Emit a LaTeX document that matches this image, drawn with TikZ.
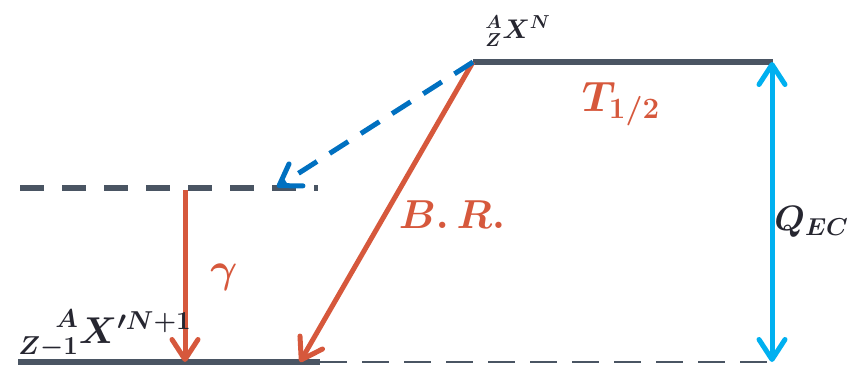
\documentclass[tikz,border=0pt]{standalone}
\usepackage{graphicx}
\usepackage{amsmath}
\usepackage{mathtools}
\usetikzlibrary{arrows.meta}
\definecolor{lvl}{RGB}{74,85,99}
\definecolor{redc}{RGB}{214,88,60}
\definecolor{bluec}{RGB}{0,112,192}
\definecolor{cyanc}{RGB}{0,176,240}
\definecolor{txt}{RGB}{38,38,48}
\tikzset{
  level/.style={draw=lvl, line width=6.5pt},
  dlevel/.style={draw=lvl, line width=6pt, dash pattern=on 24pt off 18pt},
  thindash/.style={draw=lvl, line width=2.5pt, dash pattern=on 27pt off 15pt},
  vtip/.style={-{Straight Barb[length=20pt,width=26pt,round]}},
  dvtip/.style={{Straight Barb[length=20pt,width=26pt,round]}-{Straight Barb[length=20pt,width=26pt,round]}},
  redarrow/.style={draw=redc, line width=5pt, vtip},
  bluearrow/.style={draw=bluec, line width=5pt, vtip, dash pattern=on 22pt off 15pt},
  cyanarrow/.style={draw=cyanc, line width=5pt, dvtip},
  biglabel/.style={inner sep=0pt, font=\fontsize{20}{20}\selectfont\boldmath},
}
\begin{document}
\begin{tikzpicture}[x=1pt,y=-1pt]
\useasboundingbox (0,0) rectangle (854,365);
% level endpoints
\coordinate (topL) at (473,62);
\coordinate (topR) at (773,62);
\coordinate (midL) at (20,188);
\coordinate (midR) at (318,188);
\coordinate (botL) at (18,362);
\coordinate (botM) at (320,362);
\coordinate (botR) at (770,362);
\coordinate (gamS) at (185,190);
\coordinate (gamE) at (185,362);
\coordinate (brE) at (300,362);
\coordinate (ecE) at (277,187);
\coordinate (qT) at (772,62);
\coordinate (qB) at (772,362);
% levels
\draw[level] (topL) -- (topR);
\draw[dlevel] (midL) -- (midR);
\draw[level] (botL) -- (botM);
\draw[thindash] (botM) -- (botR);
% arrows
\draw[redarrow] (gamS) -- (gamE);
\draw[redarrow] (topL) -- (brE);
\draw[bluearrow] (topL) -- (ecE);
\draw[cyanarrow] (qT) -- (qB);
% labels
\node[biglabel, text=txt] (parent) at (518,31) {\scalebox{1.3}{${}^{A}_{Z}X^{N}$}};
\node[biglabel, text=txt] (daughter) at (105,334) {\scalebox{1.8}{$\prescript{A}{Z-1}{X}'^{N+1}$}};
\node[biglabel, text=redc] (thalf) at (621,104) {\scalebox{2.05}{$T_{1/2}$}};
\node[biglabel, text=redc] (br) at (452,215) {\scalebox{1.95}{$B.\,R.$}};
\node[biglabel, text=txt, anchor=east] (qec) at (849,222) {\scalebox{1.7}{$Q_{EC}$}};
\node[biglabel, text=redc] (gam) at (224,277) {\scalebox{2}{$\gamma$}};
\end{tikzpicture}
\end{document}
